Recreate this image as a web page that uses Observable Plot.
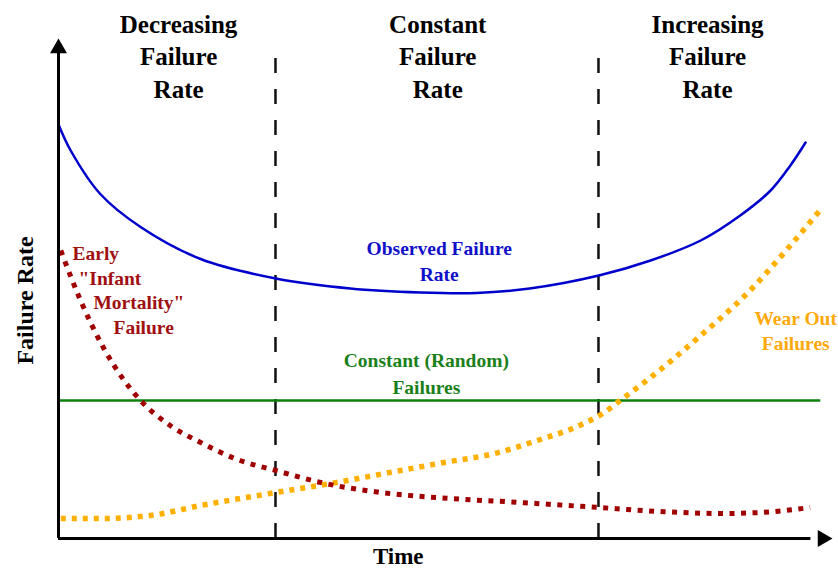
<!DOCTYPE html>
<html>
<head>
<meta charset="utf-8">
<script src="https://cdn.jsdelivr.net/npm/d3@7"></script>
<script src="https://cdn.jsdelivr.net/npm/@observablehq/plot@0.6"></script>
<style>
  html, body { margin: 0; padding: 0; background: #fff; }
  #chart svg { display: block; }
</style>
</head>
<body>
<div id="chart"></div>
<script>
// Time (0-100) vs failure rate (0-100)
const observedX = [0, 1.6, 5.5, 10.8, 18.7, 28.6, 38.4, 47.6, 55, 62, 71.1, 77.9, 84.5, 89.7, 93.7, 96.3, 98.3];
const observedY = [82.8, 77.6, 68.9, 62.3, 55.9, 52, 50, 49.2, 49.1, 50, 52.6, 55.6, 59.6, 64.6, 69.6, 74.6, 79.2];

const earlyX = [0.3, 2.9, 5.9, 10.8, 14.7, 18.7, 23.9, 28.6, 34.5, 42.4, 51.6, 60.8, 71.1, 79.2, 87.1, 92.4, 98.9];
const earlyY = [57.6, 47.6, 38.2, 27.6, 22.6, 19.2, 15.6, 13.6, 11.2, 9.2, 8, 7.2, 6.2, 5.4, 5, 5.2, 6.2];

const wearX = [0.3, 5.5, 12.1, 18.7, 28.6, 35.8, 45, 51.1, 57.1, 63, 68.7, 71.5, 73.9, 77.9, 84.5, 91, 96.3, 100.5];
const wearY = [4, 4, 4.6, 6.6, 9.2, 11, 13.6, 15.3, 16.9, 19.6, 22.7, 24.9, 27.6, 32.2, 40.6, 49.6, 58.6, 66.2];

const constantRate = 27.6;
const phaseBoundaries = [28.55, 71.05];

const headerText = ["Decreasing\nFailure\nRate", "Constant\nFailure\nRate", "Increasing\nFailure\nRate"];
const headerX = [15.8, 49.9, 85.4];
const headerY = 96.7;

const earlyLines = ["Early", "\"Infant", "Mortality\"", "Failure"];
const earlyLineX = [1.84, 2.63, 4.6, 7.24];
const earlyLineY = [57.0, 52.0, 47.2, 42.2];

const seriesLabels = [
  {text: "Observed Failure\nRate", x: 50.1, y: 55.8, color: "#1010C8", lh: 1.32},
  {text: "Constant (Random)\nFailures", x: 48.4, y: 33.4, color: "#1A801A", lh: 1.38},
  {text: "Wear Out\nFailures", x: 97, y: 41.8, color: "#FFA90A", lh: 1.3}
];

const observed = observedX.map((x, i) => ({x, y: observedY[i]}));
const early = earlyX.map((x, i) => ({x, y: earlyY[i]}));
const wear = wearX.map((x, i) => ({x, y: wearY[i]}));
const headers = headerText.map((t, i) => ({text: t, x: headerX[i], y: headerY}));
const earlyLabel = earlyLines.map((t, i) => ({text: t, x: earlyLineX[i], y: earlyLineY[i]}));

const serif = "'Liberation Serif', 'Times New Roman', serif";

const chart = Plot.plot({
  width: 838,
  height: 569,
  marginLeft: 58,
  marginRight: 20,
  marginTop: 38,
  marginBottom: 31,
  x: {domain: [0, 100], axis: null},
  y: {domain: [0, 100], axis: null},
  style: {fontFamily: serif, background: "#fff", overflow: "visible"},
  marks: [
    // phase boundaries
    Plot.ruleX(phaseBoundaries, {y1: 0, y2: 97.2, stroke: "#111", strokeWidth: 2.5, strokeDasharray: "15,16"}),
    // constant random failures
    Plot.ruleY([constantRate], {x1: 0, x2: 100.3, stroke: "#0B800B", strokeWidth: 2.5}),
    // wear out
    Plot.line(wear, {x: "x", y: "y", curve: "monotone-x", stroke: "#FFB000", strokeWidth: 5.5, strokeDasharray: "5,6", strokeLinecap: "butt"}),
    // early failures
    Plot.line(early, {x: "x", y: "y", curve: "monotone-x", stroke: "#A00000", strokeWidth: 5, strokeDasharray: "5,6.5", strokeLinecap: "butt"}),
    // observed
    Plot.line(observed, {x: "x", y: "y", curve: "catmull-rom", stroke: "#0000CC", strokeWidth: 2.5}),
    // axes
    Plot.ruleX([0], {y1: 0, y2: 97.5, stroke: "#000", strokeWidth: 3}),
    Plot.ruleY([0], {x1: 0, x2: 99, stroke: "#000", strokeWidth: 3}),
    Plot.dot([{x: 0, y: 98.04}], {x: "x", y: "y", symbol: "triangle", r: 6.3, fill: "#000", stroke: null}),
    Plot.dot([{x: 100.55, y: 0}], {x: "x", y: "y", symbol: "triangle", r: 6.3, fill: "#000", stroke: null, rotate: 90}),
    // headers
    Plot.text(headers, {x: "x", y: "y", text: "text", fontSize: 25, fontWeight: "bold", fill: "#000", lineHeight: 1.3, lineAnchor: "middle"}),
    // series labels
    ...seriesLabels.map(d => Plot.text([d], {x: "x", y: "y", text: "text", fontSize: 19.5, fontWeight: "bold", fill: d.color, lineHeight: d.lh, lineAnchor: "middle"})),
    Plot.text(earlyLabel, {x: "x", y: "y", text: "text", fontSize: 19.5, fontWeight: "bold", fill: "#A01010", textAnchor: "start"}),
    // axis labels
    Plot.text(["Failure Rate"], {x: -4.34, y: 47.6, text: d => d, rotate: -90, fontSize: 24, fontWeight: "bold", fill: "#000"}),
    Plot.text(["Time"], {x: 44.7, y: -3.7, text: d => d, fontSize: 23, fontWeight: "bold", fill: "#000"})
  ]
});

document.getElementById("chart").appendChild(chart);
</script>
</body>
</html>
